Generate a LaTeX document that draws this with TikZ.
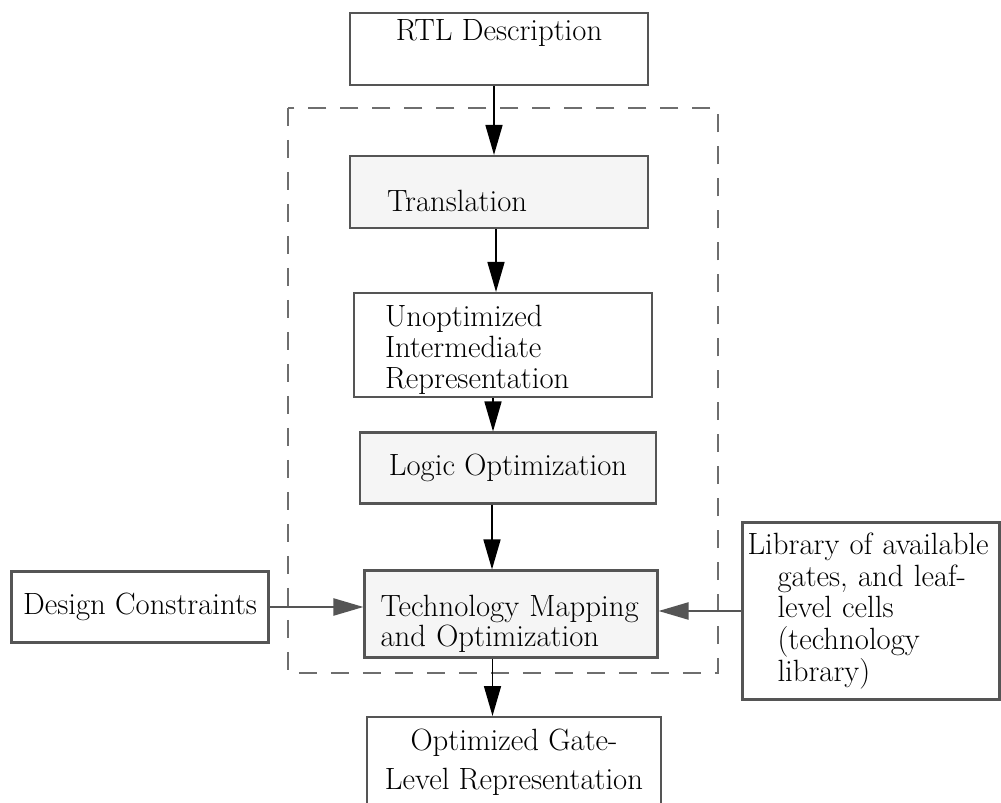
\documentclass[tikz,border=0pt]{standalone}
\usepackage{tikz}
\usepackage{xcolor}
\usetikzlibrary{arrows.meta, positioning, calc}
\definecolor{synthFill}{RGB}{245,245,245}
\definecolor{synthEdge}{RGB}{85,85,85}
\definecolor{synthDash}{RGB}{110,110,110}

\begin{document}
\begin{tikzpicture}[x=0.02cm, y=-0.02cm,
      block/.style={draw=synthEdge, line width=1.2pt, minimum width=5.96cm, minimum height=1.44cm,
      inner sep=0pt, font=\fontsize{17.5}{17.5}\selectfont},
      stage/.style={block, fill=synthFill},
      frame/.style={draw=synthDash, line width=1.1pt, dash pattern=on 0.36cm off 0.28cm},
      arrow/.style={-{Triangle[length=0.6cm, width=0.34cm]}, line width=0.9pt, draw=black}
    ]
    \useasboundingbox (0,0) rectangle (1001,803);

    % synthesis box
    \draw[frame] (288,108) rectangle (718,673);

    \node[block, text depth=0.75cm] (rtl) at (499,49) {RTL Description};
    \node[stage, text width=4.48cm, inner xsep=0.74cm, align=left, text height=0.78cm, text depth=0cm]
      (trans) at (499,192) {Translation};
    \node[block, text width=4.72cm, inner xsep=0.62cm, minimum height=2.08cm, align=left]
      (unopt) at (503,345) {\rule{0pt}{0.62cm}Unoptimized\\Intermediate\\Representation};
    \node[stage, minimum width=5.92cm, minimum height=1.42cm] (logic) at (508,468) {Logic Optimization};
    \node[stage, minimum width=5.86cm, text width=5.22cm, inner xsep=0.32cm, minimum height=1.74cm, align=left]
      (techmap) at (511,614) {\rule{0pt}{0.82cm}Technology Mapping\\and Optimization};
    \node[block, minimum width=5.14cm, minimum height=1.42cm] (constraints) at (140,607) {Design Constraints};
    \node[block, minimum width=5.14cm, text width=4.94cm, inner xsep=0.1cm, minimum height=3.54cm, align=left,
      font=\fontsize{17.5}{18}\selectfont] (library) at (871,611)
      {Library of available\\\hspace*{0.6cm}gates, and leaf-\\\hspace*{0.6cm}level cells\\
      \hspace*{0.6cm}(technology\\\hspace*{0.6cm}library)};
    \node[block, anchor=north, minimum width=5.88cm, minimum height=1.8cm, align=center]
      (optimized) at (514,716) {Optimized Gate-\\[5pt]Level Representation};

    \draw[arrow] ([xshift=-0.1cm]rtl.south) -- ([xshift=-0.1cm]rtl.south |- trans.north);
    \draw[arrow] ([xshift=-0.06cm]trans.south) -- ([xshift=-0.06cm]trans.south |- unopt.north);
    \draw[arrow] ([xshift=-0.2cm]unopt.south) -- ([xshift=-0.2cm]unopt.south |- logic.north);
    \draw[arrow] ([xshift=-0.32cm]logic.south) -- ([xshift=-0.32cm]logic.south |- techmap.north);
    \draw[arrow] ([xshift=-0.37cm]techmap.south) -- ([xshift=-0.37cm]techmap.south |- optimized.north);
    \draw[arrow, draw=synthEdge, line width=1.3pt] (constraints.east) -- (constraints.east -| techmap.west);
    \draw[arrow, draw=synthEdge, line width=1.3pt] (library.west) -- (library.west -| techmap.east);
  \end{tikzpicture}
\end{document}
